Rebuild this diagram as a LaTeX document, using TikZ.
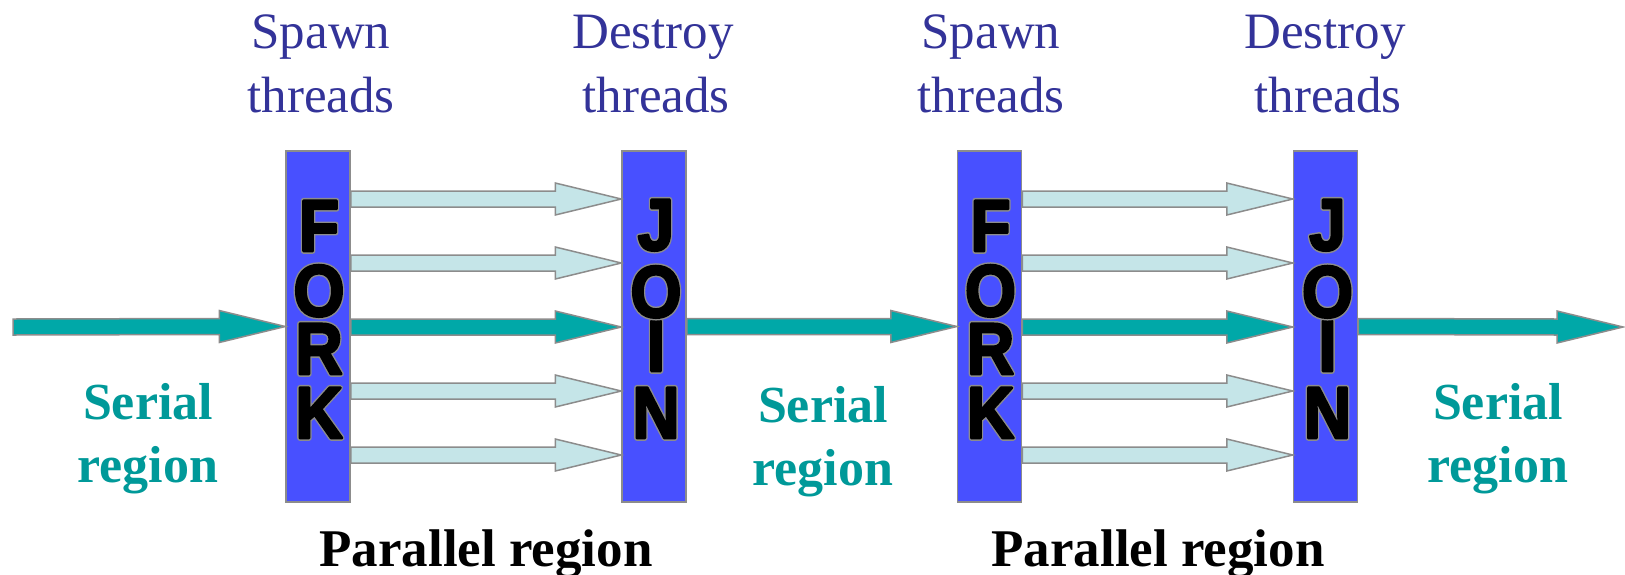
\documentclass[tikz,border=0pt]{standalone}
\usepackage{fontspec}
\setmainfont{Liberation Serif}
\newfontfamily\letterfont{Liberation Sans}
\usetikzlibrary{calc}
\definecolor{boxblue}{RGB}{72,80,255}
\definecolor{edgegray}{RGB}{140,140,140}
\definecolor{teal1}{RGB}{0,168,168}
\definecolor{tealtxt}{RGB}{0,153,153}
\definecolor{lightarr}{RGB}{197,229,232}
\definecolor{bluetxt}{RGB}{51,51,153}
\newcommand\Ltr[1]{\rlap{\special{pdf:literal 2 Tr 0.55 0.55 0.55 RG 5.6 w 1 j}\scalebox{0.9}[1]{#1}\special{pdf:literal 0 Tr}}%
  \special{pdf:literal 2 Tr 0 0 0 RG 2.6 w 1 j}\scalebox{0.9}[1]{#1}\special{pdf:literal 0 Tr}}
\newcommand\blockarr[3]{%
  \path[#1] ($(#2)+(0,-8)$) -- ($(#3)+(-66,-8)$) -- ($(#3)+(-66,-16)$) -- (#3)
    -- ($(#3)+(-66,16)$) -- ($(#3)+(-66,8)$) -- ($(#2)+(0,8)$) -- cycle;}
\tikzset{
  gatebox/.style={draw=edgegray, line width=1.5pt, fill=boxblue, minimum width=64pt, minimum height=351pt, inner sep=0pt},
  ltr/.style={anchor=base, inner sep=0pt, text=black, font=\letterfont\bfseries\fontsize{73}{73}\selectfont},
  spawnlbl/.style={anchor=base, inner sep=0pt, text=bluetxt, font=\fontsize{51}{51}\selectfont},
  seriallbl/.style={anchor=base, inner sep=0pt, text=tealtxt, font=\bfseries\fontsize{52}{52}\selectfont},
  parlbl/.style={anchor=base, inner sep=0pt, text=black, font=\bfseries\fontsize{53}{53}\selectfont},
  mainarr/.style={fill=teal1, draw=edgegray, line width=1.5pt, line join=miter},
  thinarr/.style={fill=lightarr, draw=edgegray, line width=1.5pt, line join=miter},
}
\begin{document}
\begin{tikzpicture}[x=1pt,y=-1pt]
\useasboundingbox (0,0) rectangle (1625,574);
\fill[white] (0,0) rectangle (1625,574);
% boxes
\node[gatebox] (fork1) at (318,326.5) {};
\node[gatebox] (join1) at (654,326.5) {};
\node[gatebox] (fork2) at (989.5,326.5) {};
\node[gatebox] (join2) at (1325.5,326.5) {};
% letters
\foreach \b/\L/\yy [count=\i] in {fork1/F/251,fork1/O/316,fork1/R/374,fork1/K/438,fork2/F/251,fork2/O/316,fork2/R/374,fork2/K/438}{
  \node[ltr] (l\i) at ([xshift=1pt]\b.center |- 0,\yy) {\Ltr{\L}};
}
\foreach \b [count=\i] in {join1,join2}{
  \node[ltr] (jI\i) at ([xshift=2pt]\b.center |- 0,371) {\Ltr{I}};
  \node[ltr] (jJ\i) at ([xshift=2pt]\b.center |- 0,250) {\Ltr{J}};
  \node[ltr] (jO\i) at ([xshift=2pt]\b.center |- 0,317) {\Ltr{O}};
  \node[ltr] (jN\i) at ([xshift=2pt]\b.center |- 0,438) {\Ltr{N}};
}
% free ends
\coordinate (s0) at (13,327);
\coordinate (e3) at (1623,327);
% serial arrows
\blockarr{mainarr}{s0}{fork1.west}
\blockarr{mainarr}{join1.east}{fork2.west}
\blockarr{mainarr}{join2.east}{e3}
% parallel arrows
\foreach \f/\j in {fork1/join1,fork2/join2}{
  \foreach \yy in {199,263,391,455}{
    \blockarr{thinarr}{\f.east |- 0,\yy}{\j.west |- 0,\yy}
  }
  \blockarr{mainarr}{\f.east |- 0,327}{\j.west |- 0,327}
}
% labels
\node[spawnlbl] (sp1a) at (321,48) {Spawn};
\node[spawnlbl] (sp1b) at (321,112) {threads};
\node[spawnlbl] (de1a) at (653,48) {Destroy};
\node[spawnlbl] (de1b) at (656,112) {threads};
\node[spawnlbl] (sp2a) at (991,48) {Spawn};
\node[spawnlbl] (sp2b) at (991,112) {threads};
\node[spawnlbl] (de2a) at (1325,48) {Destroy};
\node[spawnlbl] (de2b) at (1328,112) {threads};
\node[seriallbl] (se1a) at (148,419) {Serial};
\node[seriallbl] (se1b) at (148,482) {region};
\node[seriallbl] (se2a) at (823,422) {Serial};
\node[seriallbl] (se2b) at (823,485) {region};
\node[seriallbl] (se3a) at (1498,419) {Serial};
\node[seriallbl] (se3b) at (1498,482) {region};
\node[parlbl] (pa1) at (486,566) {Parallel region};
\node[parlbl] (pa2) at (1158,566) {Parallel region};
\end{tikzpicture}
\end{document}
